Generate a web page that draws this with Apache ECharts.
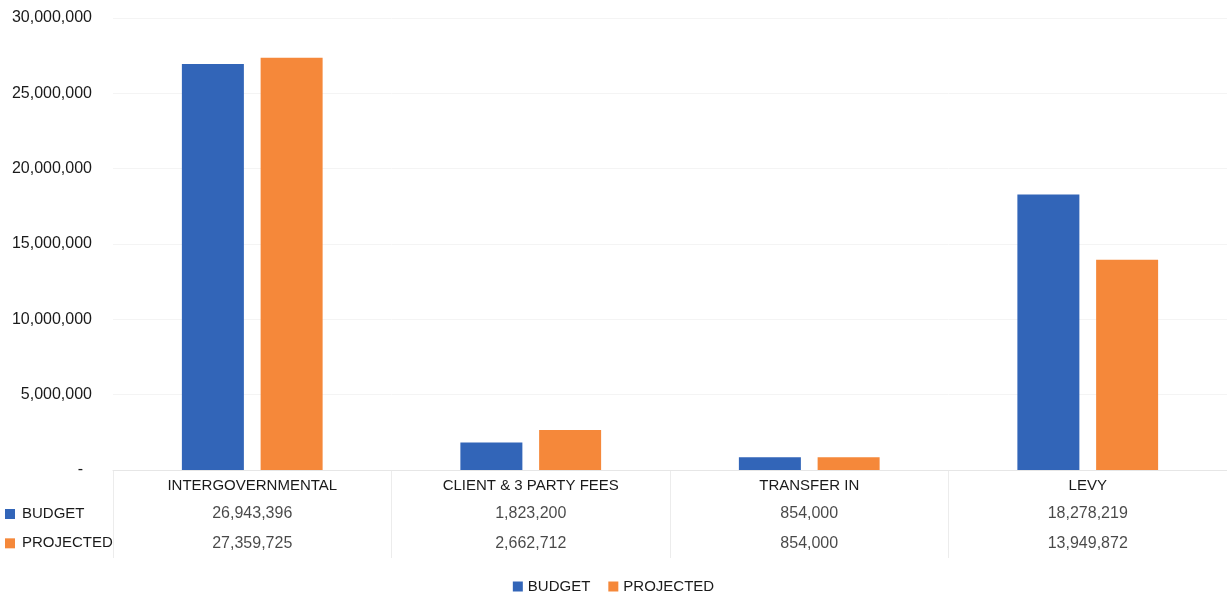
<!DOCTYPE html>
<html>
<head>
<meta charset="utf-8">
<script src="https://cdn.jsdelivr.net/npm/echarts@6/dist/echarts.min.js"></script>
<style>
  html, body { margin: 0; padding: 0; background: #fff; }
  #chart { width: 1227px; height: 597px; }
</style>
</head>
<body>
<div id="chart"></div>
<script>
var categories = ["INTERGOVERNMENTAL", "CLIENT & 3 PARTY FEES", "TRANSFER IN", "LEVY"];
var budget = [26943396, 1823200, 854000, 18278219];
var projected = [27359725, 2662712, 854000, 13949872];
var rowNames = ["", "BUDGET", "PROJECTED"];
var yTicks = { min: 0, max: 30000000, interval: 5000000 };

var blue = "#3265b8";
var orange = "#f5883a";
var font = "Liberation Sans, Arial, sans-serif";

function fmt(v) {
  return Number(v).toLocaleString("en-US");
}

// cells of the data table: [category index, row index, value]
var budgetCells = budget.map(function (v, i) { return [i, 1, v]; });
var projectedCells = projected.map(function (v, i) { return [i, 2, v]; });

var cellLabel = {
  show: true,
  position: "inside",
  fontFamily: font,
  fontSize: 16,
  color: "#1a1a1a",
  formatter: function (p) { return fmt(p.value[2]); }
};

var chart = echarts.init(document.getElementById("chart"));
chart.setOption({
  animation: false,
  textStyle: { fontFamily: font },
  legend: {
    data: ["BUDGET", "PROJECTED"],
    bottom: -2,
    left: "center",
    icon: "rect",
    itemWidth: 10,
    itemHeight: 10,
    itemGap: 18,
    textStyle: { fontFamily: font, fontSize: 15, color: "#1a1a1a" }
  },
  grid: [
    { left: 113, width: 1116, top: 18, height: 452 },
    { left: 113, width: 1116, top: 470, height: 88 }
  ],
  xAxis: [
    {
      type: "category",
      gridIndex: 0,
      data: categories,
      axisTick: { show: false },
      axisLine: { lineStyle: { color: "#e6e6e6" } },
      axisLabel: { margin: 8, fontSize: 15, color: "#1a1a1a", fontFamily: font }
    },
    {
      type: "category",
      gridIndex: 1,
      data: categories,
      position: "top",
      axisTick: { show: false },
      axisLine: { show: false },
      axisLabel: { show: false },
      splitLine: { show: true, lineStyle: { color: "#ececec" } }
    }
  ],
  yAxis: [
    {
      type: "value",
      gridIndex: 0,
      min: yTicks.min,
      max: yTicks.max,
      interval: yTicks.interval,
      axisLine: { show: false },
      axisTick: { show: false },
      splitLine: { lineStyle: { color: "#f4f4f4" } },
      axisLabel: {
        margin: 21,
        fontSize: 16,
        color: "#1a1a1a",
        fontFamily: font,
        formatter: function (v) { return v === 0 ? "-  " : fmt(v); }
      }
    },
    {
      type: "category",
      gridIndex: 1,
      data: rowNames,
      inverse: true,
      axisLine: { show: false },
      axisTick: { show: false },
      axisLabel: {
        align: "left",
        margin: 108,
        fontSize: 15,
        color: "#1a1a1a",
        fontFamily: font,
        formatter: function (v, i) {
          if (i === 1) return "{b|}{t|" + v + "}";
          if (i === 2) return "{o|}{t|" + v + "}";
          return "";
        },
        rich: {
          b: { width: 10, height: 10, backgroundColor: blue },
          o: { width: 10, height: 10, backgroundColor: orange },
          t: { fontSize: 15, color: "#1a1a1a", fontFamily: font, padding: [0, 0, 0, 7] }
        }
      }
    }
  ],
  series: [
    {
      name: "BUDGET",
      type: "bar",
      xAxisIndex: 0,
      yAxisIndex: 0,
      data: budget,
      barWidth: 62,
      barGap: "27%",
      itemStyle: { color: blue }
    },
    {
      name: "PROJECTED",
      type: "bar",
      xAxisIndex: 0,
      yAxisIndex: 0,
      data: projected,
      barWidth: 62,
      itemStyle: { color: orange }
    },
    {
      name: "budgetRow",
      type: "scatter",
      xAxisIndex: 1,
      yAxisIndex: 1,
      data: budgetCells,
      symbolSize: 1,
      itemStyle: { color: "transparent" },
      label: cellLabel,
      silent: true
    },
    {
      name: "projectedRow",
      type: "scatter",
      xAxisIndex: 1,
      yAxisIndex: 1,
      data: projectedCells,
      symbolSize: 1,
      itemStyle: { color: "transparent" },
      label: cellLabel,
      silent: true
    }
  ]
});
</script>
</body>
</html>
